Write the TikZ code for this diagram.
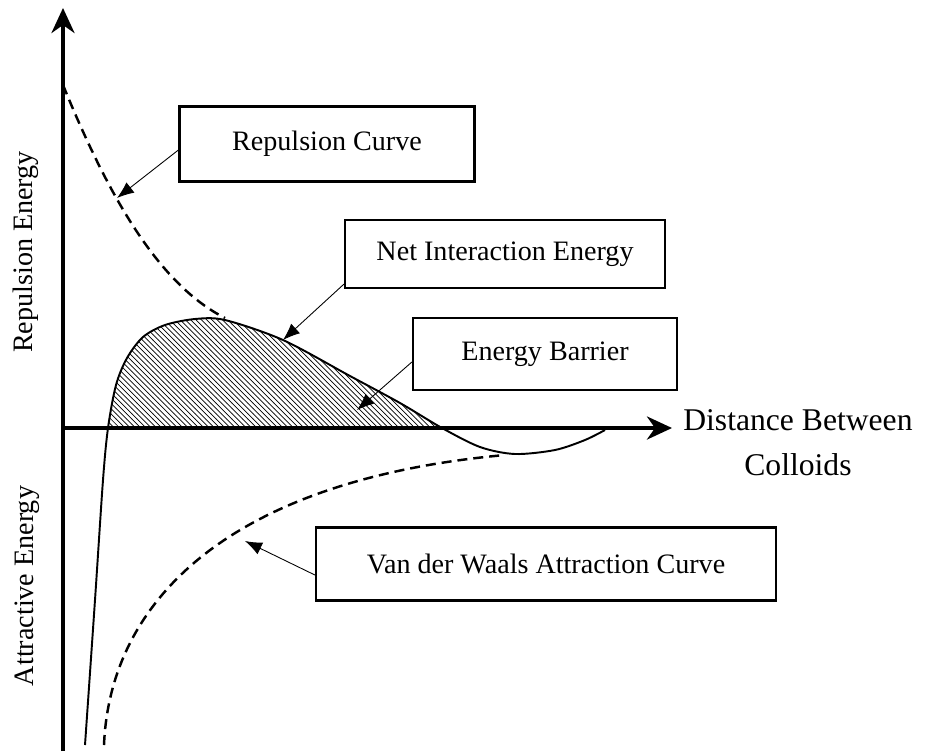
\documentclass[tikz,border=0pt]{standalone}
\usepackage{fontspec}
\setmainfont{Liberation Serif}
\usetikzlibrary{arrows.meta, positioning, patterns}

\begin{document}
\begin{tikzpicture}[x=0.02cm, y=-0.02cm, >=Stealth,
    axisline/.style={line width=2.2pt, -{Stealth[length=5mm, width=4.6mm, inset=1.6mm]}},
    netcurve/.style={line width=1.1pt},
    dashcurve/.style={line width=1.4pt, dash pattern=on 5.7pt off 3.4pt},
    tagbox/.style={draw, line width=1.3pt, inner sep=0pt, font=\fontsize{16}{19}\selectfont},
    pointer/.style={line width=0.5pt, -{Latex[length=3.4mm, width=2.6mm]}},
    axislabel/.style={inner sep=0pt, font=\fontsize{16}{19}\selectfont}]

    \useasboundingbox (0,0) rectangle (939,751);

    % -------------------------------------------------------------
    % Axes
    % -------------------------------------------------------------
    \coordinate (O) at (63,428);
    \coordinate (Ybot) at (63,751);
    \coordinate (Ytop) at (63,8);
    \coordinate (Xend) at (672,428);

    % Energy barrier (hatched area under the hump)
    \fill[pattern=north west lines]
        plot[smooth] coordinates {(108,428) (116,385) (127,358) (143,337)
            (165,325) (195,319) (225,320) (283,340) (350,376) (400,403) (442,428)}
        -- cycle;

    \draw[axisline] (Ybot) -- (Ytop);
    \draw[axisline] (O) -- (Xend);

    \node[axislabel, rotate=90] (RepE) at (26,252) {Repulsion Energy};
    \node[axislabel, rotate=90] (AttE) at (27,586) {Attractive Energy};
    \node[inner sep=0pt, align=center, font=\fontsize{18}{25.6}\selectfont]
        (Dist) [right=0.22cm of Xend, yshift=-0.3cm] {Distance Between\\Colloids};

    % -------------------------------------------------------------
    % Curves
    % -------------------------------------------------------------
    % repulsion
    \draw[dashcurve] (63,85) .. controls (110,200) and (160,285) .. (225,318);
    % van der Waals attraction
    \draw[dashcurve] (104,745) .. controls (110,600) and (230,480) .. (505,455);
    % net interaction
    \draw[netcurve] plot[smooth] coordinates {(85,745) (95,600) (103,480)
        (108,428) (116,385) (127,358) (143,337) (165,325) (195,319)
        (225,320) (283,340) (350,376) (400,403) (442,428) (480,447)
        (515,454) (555,450) (585,440) (605,430)};

    % -------------------------------------------------------------
    % Labels and pointers
    % -------------------------------------------------------------
    \node[tagbox, minimum width=5.9cm, minimum height=1.5cm] (Rep) at (327,144) {Repulsion Curve};
    \node[tagbox, minimum width=6.4cm, minimum height=1.36cm] (Net) at (505,254) {Net Interaction Energy};
    \node[tagbox, minimum width=5.28cm, minimum height=1.44cm] (Bar) at (545,354) {Energy Barrier};
    \node[tagbox, minimum width=9.2cm, minimum height=1.46cm] (VdW) at (546,564) {Van der Waals Attraction Curve};

    \coordinate (RepTip) at (117,198);
    \coordinate (NetTip) at (283,340);
    \coordinate (BarTip) at (357,410);
    \coordinate (VdWTip) at (245,541);

    \draw[pointer] ([yshift=-0.12cm]Rep.west) -- (RepTip);
    \draw[pointer] ([yshift=0.1cm]Net.south west) -- (NetTip);
    \draw[pointer] ([yshift=-0.16cm]Bar.west) -- (BarTip);
    \draw[pointer] ([yshift=-0.22cm]VdW.west) -- (VdWTip);

\end{tikzpicture}
\end{document}
